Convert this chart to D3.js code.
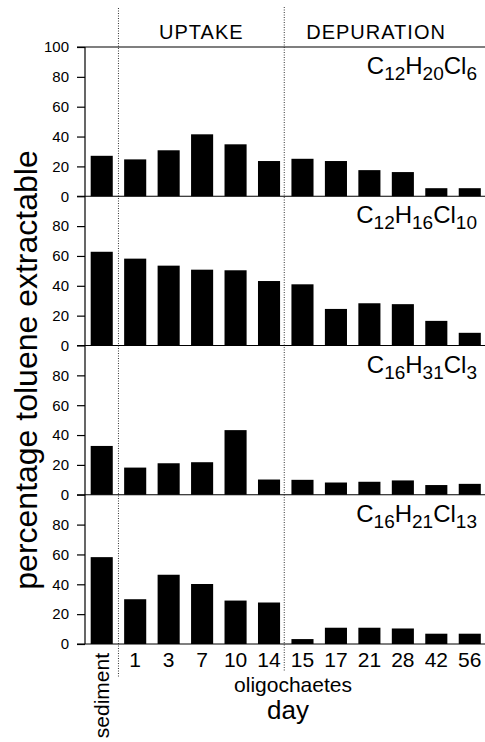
<!DOCTYPE html>
<html>
<head>
<meta charset="utf-8">
<script src="https://cdn.jsdelivr.net/npm/d3@7"></script>
<style>
  html, body { margin: 0; padding: 0; background: #fff; }
  svg { display: block; }
  text { font-family: "Liberation Sans", Arial, Helvetica, sans-serif; fill: #000; }
</style>
</head>
<body>
<svg id="chart" width="485" height="742"></svg>
<script>
// ---- data ----
const categories = ["sediment", "1", "3", "7", "10", "14", "15", "17", "21", "28", "42", "56"];
const panelFormulas = [
  [["C", 0], ["12", 1], ["H", 0], ["20", 1], ["Cl", 0], ["6", 1]],
  [["C", 0], ["12", 1], ["H", 0], ["16", 1], ["Cl", 0], ["10", 1]],
  [["C", 0], ["16", 1], ["H", 0], ["31", 1], ["Cl", 0], ["3", 1]],
  [["C", 0], ["16", 1], ["H", 0], ["21", 1], ["Cl", 0], ["13", 1]]
];
const valuesC12H20Cl6  = [27.1, 24.7, 30.8, 41.5, 34.8, 23.6, 25.1, 23.6, 17.5, 16.2, 5.4, 5.4];
const valuesC12H16Cl10 = [62.8, 58.2, 53.5, 50.8, 50.4, 43.2, 41.0, 24.5, 28.3, 27.7, 16.5, 8.5];
const valuesC16H31Cl3  = [32.7, 18.2, 21.1, 21.8, 43.3, 10.2, 10.0, 8.2, 8.7, 9.6, 6.5, 7.3];
const valuesC16H21Cl13 = [58.2, 30.0, 46.4, 40.2, 29.1, 27.8, 3.3, 10.9, 10.9, 10.4, 6.9, 6.9];
const panelValues = [valuesC12H20Cl6, valuesC12H16Cl10, valuesC16H31Cl3, valuesC16H21Cl13];
const yTicksTop = [0, 20, 40, 60, 80, 100];
const yTicksOther = [0, 20, 40, 60, 80];
const phaseLabels = ["UPTAKE", "DEPURATION"];
const yAxisTitle = "percentage toluene extractable";
const xSubTitle = "oligochaetes";
const xTitle = "day";

// ---- layout ----
const svg = d3.select("#chart");
const left = 85, right = 486.5;
const top0 = 47, bottom = 644;
const nPanels = panelValues.length;
const panelH = (bottom - top0) / nPanels;

const x = d3.scaleBand().domain(categories).range([left, right])
  .paddingInner(0.34).paddingOuter(0.17);

const boundary1 = left + x.step();           // between sediment and day 1
const boundary2 = left + 6 * x.step() - 1.5; // between day 14 and day 15

// dotted phase separators
svg.append("line").attr("x1", boundary1).attr("x2", boundary1)
  .attr("y1", 8).attr("y2", 677)
  .attr("stroke", "#333").attr("stroke-width", 1).attr("stroke-dasharray", "1,1.5");
svg.append("line").attr("x1", boundary2).attr("x2", boundary2)
  .attr("y1", 7).attr("y2", 671)
  .attr("stroke", "#333").attr("stroke-width", 1).attr("stroke-dasharray", "1,1.5");

// phase headers
svg.append("text").attr("x", (boundary1 + boundary2) / 2).attr("y", 39)
  .attr("text-anchor", "middle").style("font-size", "20px").style("letter-spacing", "1px")
  .text(phaseLabels[0]);
svg.append("text").attr("x", boundary2 + 22).attr("y", 39)
  .attr("text-anchor", "start").style("font-size", "20px").style("letter-spacing", "1px")
  .text(phaseLabels[1]);

// top frame line
svg.append("line").attr("x1", left - 8).attr("x2", 485).attr("y1", top0).attr("y2", top0)
  .attr("stroke", "#000").attr("stroke-width", 1.2);

panelValues.forEach((vals, i) => {
  const pTop = top0 + i * panelH;
  const pBot = pTop + panelH;
  const y = d3.scaleLinear().domain([0, 100]).range([pBot, pTop]);
  const g = svg.append("g");

  // bars
  g.selectAll("rect").data(vals).join("rect")
    .attr("x", (d, j) => x(categories[j]))
    .attr("width", x.bandwidth())
    .attr("y", d => y(d))
    .attr("height", d => y(0) - y(d))
    .attr("fill", "#000");

  // y axis
  const ticks = i === 0 ? yTicksTop : yTicksOther;
  const ax = d3.axisLeft(y).tickValues(ticks).tickSize(8).tickPadding(8).tickFormat(d3.format("d"));
  const ag = g.append("g").attr("transform", `translate(${left},0)`).call(ax);
  ag.select(".domain").remove();
  ag.selectAll(".tick line").attr("stroke", "#000").attr("stroke-width", 1.2);
  ag.selectAll(".tick text").style("font-size", "15px").style("font-family", "Liberation Sans, Arial, sans-serif");

  // baseline (x-axis of panel)
  g.append("line").attr("x1", left - 8).attr("x2", 485).attr("y1", y(0)).attr("y2", y(0))
    .attr("stroke", "#000").attr("stroke-width", 1.2);

  // formula label
  const t = g.append("text").attr("x", 477).attr("y", pTop + 27).attr("text-anchor", "end")
    .style("font-size", "24px");
  let prevSub = 0;
  panelFormulas[i].forEach(([s, sub]) => {
    const dy = sub === prevSub ? 0 : (sub ? 6 : -6);
    t.append("tspan").attr("dy", dy).style("font-size", sub ? "19px" : "24px").text(s);
    prevSub = sub;
  });
});

// left axis line
svg.append("line").attr("x1", left).attr("x2", left).attr("y1", top0).attr("y2", bottom)
  .attr("stroke", "#000").attr("stroke-width", 1.2);

// x tick labels
svg.selectAll("text.xl").data(categories.slice(1)).join("text")
  .attr("class", "xl")
  .attr("x", d => x(d) + x.bandwidth() / 2)
  .attr("y", 667)
  .attr("text-anchor", "middle").style("font-size", "21px")
  .text(d => d);
svg.append("text")
  .attr("transform", `translate(${x(categories[0]) + x.bandwidth() / 2 + 7},653) rotate(-90)`)
  .attr("text-anchor", "end").style("font-size", "21px")
  .text(categories[0]);

svg.append("text").attr("x", 293).attr("y", 692).attr("text-anchor", "middle")
  .style("font-size", "21px").text(xSubTitle);
svg.append("text").attr("x", 288).attr("y", 719).attr("text-anchor", "middle")
  .style("font-size", "26px").text(xTitle);

// y title
svg.append("text").attr("transform", "translate(37,370) rotate(-90)")
  .attr("text-anchor", "middle").style("font-size", "32px").text(yAxisTitle);
</script>
</body>
</html>
